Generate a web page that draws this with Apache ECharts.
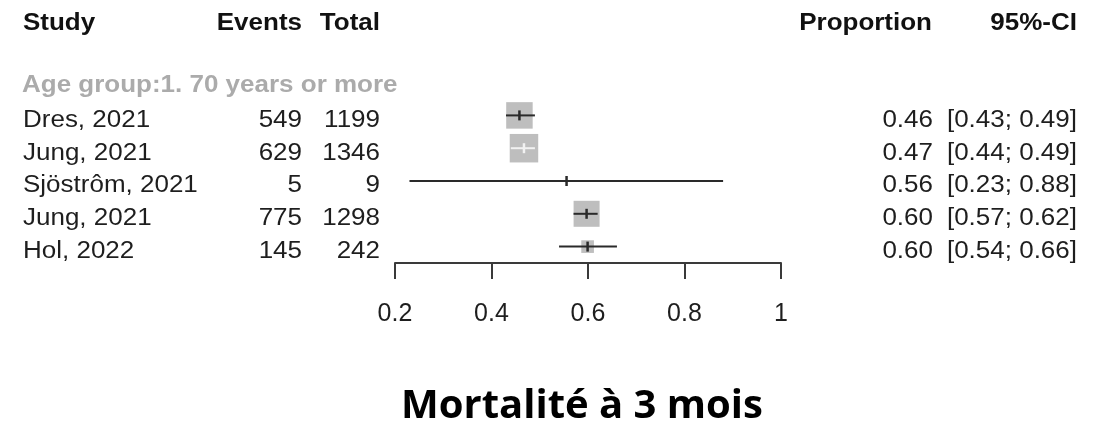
<!DOCTYPE html>
<html>
<head>
<meta charset="utf-8">
<script src="https://cdn.jsdelivr.net/npm/echarts@6/dist/echarts.min.js"></script>
<style>
  html, body { margin: 0; padding: 0; background: #ffffff; }
  #main { width: 1103px; height: 433px; }
</style>
</head>
<body>
<div id="main"></div>
<script>
var studies = ['Dres, 2021', 'Jung, 2021', 'Sjöstrôm, 2021', 'Jung, 2021', 'Hol, 2022'];
var events = [549, 629, 5, 775, 145];
var totals = [1199, 1346, 9, 1298, 242];
var lower = [0.43, 0.44, 0.23, 0.57, 0.54];
var upper = [0.49, 0.49, 0.88, 0.62, 0.66];
var weights = [29.8, 34.5, 0.2, 28.7, 6.8];
var groupLabel = 'Age group:1. 70 years or more';
var headers = ['Study', 'Events', 'Total', 'Proportion', '95%-CI'];
var chartTitle = 'Mortalité à 3 mois';

var FONT = '"Liberation Sans", Arial, sans-serif';
var FS = 23;
var SX = 1.13;
var maxW = Math.max.apply(null, weights);

var data = events.map(function (e, i) {
    return [e / totals[i], i + 1, lower[i], upper[i], weights[i]];
});

// stretched text, the reference picture is a bit wider than tall
function txt(x, y, s, align, color, bold) {
    return {
        type: 'text',
        x: x, y: y, scaleX: SX,
        style: {
            x: 0, y: 0, text: s, fill: color || '#1e1e1e',
            font: (bold ? 'bold ' : '') + FS + 'px ' + FONT,
            align: align, verticalAlign: 'middle'
        }
    };
}

function renderItem(params, api) {
    var i = params.dataIndex;
    var row = api.value(1);
    var c = api.coord([api.value(0), row]);
    var lo = api.coord([api.value(2), row]);
    var hi = api.coord([api.value(3), row]);
    var side = 28.5 * Math.sqrt(api.value(4) / maxW);
    var inside = (c[0] - lo[0] <= side / 2) && (hi[0] - c[0] <= side / 2);
    var lc = inside ? '#f2f2f2' : '#2a2a2a';
    var ty = c[1] + 5;
    var p = api.value(0);
    return {
        type: 'group',
        children: [
            { type: 'rect', shape: { x: c[0] - side / 2, y: c[1] - side / 2, width: side, height: side },
              style: { fill: '#bebebe' } },
            { type: 'line', shape: { x1: lo[0], y1: c[1], x2: hi[0], y2: c[1] },
              style: { stroke: lc, lineWidth: 2 } },
            { type: 'line', shape: { x1: c[0], y1: c[1] - 5, x2: c[0], y2: c[1] + 5 },
              style: { stroke: lc, lineWidth: 2.5 } },
            txt(23, ty, studies[i], 'left'),
            txt(302, ty, String(events[i]), 'right'),
            txt(380, ty, String(totals[i]), 'right'),
            txt(933, ty, p.toFixed(2), 'right'),
            txt(1077, ty, '[' + lower[i].toFixed(2) + '; ' + upper[i].toFixed(2) + ']', 'right')
        ]
    };
}

var chart = echarts.init(document.getElementById('main'));
chart.setOption({
    backgroundColor: '#ffffff',
    animation: false,
    grid: { left: 395, right: 322, top: 99, bottom: 170 },
    xAxis: {
        type: 'value',
        min: 0.2,
        max: 1,
        interval: 0.2,
        splitLine: { show: false },
        axisLine: { show: true, onZero: false, lineStyle: { color: '#3a3a3a', width: 2 } },
        axisTick: { show: true, length: 16, lineStyle: { color: '#3a3a3a', width: 2 } },
        axisLabel: { fontSize: 25, color: '#1e1e1e', fontFamily: FONT, margin: 39 }
    },
    yAxis: {
        type: 'value',
        min: 0.5,
        max: 5.5,
        inverse: true,
        show: false
    },
    graphic: [
        txt(23, 23.5, headers[0], 'left', '#111', true),
        txt(302, 23.5, headers[1], 'right', '#111', true),
        txt(380, 23.5, headers[2], 'right', '#111', true),
        txt(932, 23.5, headers[3], 'right', '#111', true),
        txt(1077, 23.5, headers[4], 'right', '#111', true),
        txt(22, 86, groupLabel, 'left', '#ababab', true),
        { type: 'text', style: { x: 582, y: 407, text: chartTitle, align: 'center', verticalAlign: 'middle', font: 'bold 40px "Open Sans", sans-serif', fill: '#000' } }
    ],
    series: [{
        type: 'custom',
        renderItem: renderItem,
        clip: false,
        data: data
    }]
});
</script>
</body>
</html>
